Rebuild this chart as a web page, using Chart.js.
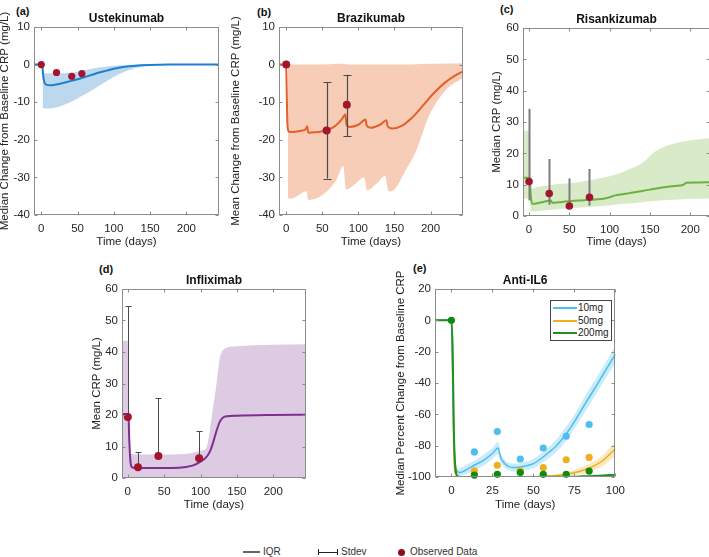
<!DOCTYPE html>
<html>
<head>
<meta charset="utf-8">
<script src="https://cdn.jsdelivr.net/npm/chart.js@4.4.1/dist/chart.umd.min.js"></script>
<style>
html, body { margin: 0; padding: 0; background: #fff; overflow: hidden; width: 709px; height: 557px; }
body { position: relative; font-family: "Liberation Sans", Arial, Helvetica, sans-serif; color: #222; }
canvas { position: absolute; }
.tag { position: absolute; font-weight: bold; font-size: 11px; color: #111; }
#eLegend { position: absolute; left: 550px; top: 300px; width: 60px; height: 39px; border: 1px solid #444; background: #fff; font-size: 10px; }
#eLegend div { position: absolute; left: 2px; height: 12px; line-height: 12px; white-space: nowrap; }
#eLegend span.ln { display: inline-block; width: 24px; height: 2px; vertical-align: middle; margin-right: 1px; }
.key { position: absolute; top: 546px; font-size: 10px; color: #333; line-height: 12px; white-space: nowrap; }
</style>
</head>
<body>

<div class="tag" style="left:16px;top:5px">(a)</div>
<div class="tag" style="left:257px;top:6px">(b)</div>
<div class="tag" style="left:500px;top:3px">(c)</div>
<div class="tag" style="left:99px;top:263px">(d)</div>
<div class="tag" style="left:413px;top:262px">(e)</div>

<canvas id="ca"></canvas>
<canvas id="cb"></canvas>
<canvas id="cc"></canvas>
<canvas id="cd"></canvas>
<canvas id="ce"></canvas>

<div id="eLegend"></div>

<div class="key" style="left:243px"><span style="display:inline-block;width:17px;height:0;border-top:2px solid #666;vertical-align:middle;margin-right:3px"></span>IQR</div>
<div class="key" style="left:318px"><span style="display:inline-block;width:18px;height:6px;border-left:1px solid #222;border-right:1px solid #222;background:linear-gradient(#222,#222) center/100% 1px no-repeat;vertical-align:middle;margin-right:3px"></span>Stdev</div>
<div class="key" style="left:398px"><span style="display:inline-block;width:7px;height:7px;border-radius:50%;background:#8e0c1c;vertical-align:middle;margin-right:5px"></span>Observed Data</div>

<script>
const FONT = '"Liberation Sans", Arial, Helvetica, sans-serif';
Chart.defaults.font.family = FONT;
Chart.defaults.color = '#262626';

const OBS = '#a3152f';

// shared tick labels
const timeTicks = [0, 50, 100, 150, 200];
const changeTicks = [-40, -30, -20, -10, 0, 10];
const crpTicks = [0, 10, 20, 30, 40, 50, 60];
const il6TimeTicks = [0, 25, 50, 75, 100];
const pctTicks = [-100, -80, -60, -40, -20, 0, 20];

// (a) Ustekinumab
const aDays = [-10, 0, 1.5, 3, 5, 8, 12, 20, 30, 40, 50, 60, 70, 80, 90, 100, 115, 130, 150, 175, 245];
const aMedian = [0, 0, -0.5, -3.5, -5.0, -5.4, -5.5, -5.3, -4.9, -4.4, -3.9, -3.3, -2.7, -2.1, -1.6, -1.1, -0.6, -0.3, -0.1, 0, 0];
const aBandDays = [2, 3, 5, 10, 20, 30, 40, 50, 60, 70, 80, 90, 100, 110, 120, 135, 150, 175, 245];
const aBandHi = [-2.3, -2.3, -2.3, -2.3, -2.3, -2.3, -2.2, -1.9, -1.5, -1.1, -0.8, -0.5, -0.3, -0.2, -0.1, 0, 0, 0, 0];
const aBandLo = [-11.5, -11.6, -11.7, -11.7, -11.4, -10.8, -10.0, -9.0, -7.9, -6.8, -5.6, -4.4, -3.3, -2.3, -1.5, -0.7, -0.3, -0.05, 0];
const aObsDays = [0, 21, 42, 56];
const aObs = [0, -2.1, -3.1, -2.4];

// (b) Brazikumab
const bDays = [-10, 0, 0.6, 1.5, 3, 5, 10, 20, 27, 29, 30.5, 40, 50, 60, 70, 78, 82, 83.5, 88, 100, 110, 111.5, 117, 130, 139, 140.5, 147, 160, 175, 190, 205, 220, 235, 245];
const bMean = [0, 0, -6, -15, -17.6, -17.9, -17.9, -17.6, -17.2, -16.4, -18.1, -18.0, -17.7, -17.2, -16.0, -14.3, -13.2, -16.0, -16.6, -16.0, -14.6, -16.2, -16.8, -16.0, -14.8, -16.4, -17.0, -16.3, -14.0, -10.8, -7.5, -4.8, -2.8, -1.8];
const bBandDays = [2.5, 5, 15, 28, 30.5, 45, 60, 70, 79, 83, 95, 108, 112, 125, 137, 142, 150, 165, 180, 197, 220, 245];
const bBandHi = [-0.3, 0, 0, 0, 0, 0, 0.1, 0.2, 0.2, 0.1, 0, 0, 0, 0, 0, 0, 0, 0, 0.1, 0.2, 0.3, 0.3];
const bBandLo = [-35.5, -35.7, -35, -33.7, -36, -35.3, -33, -30.5, -27, -33.2, -31.8, -30, -33.4, -31.7, -29.6, -33.7, -33.2, -28.3, -23, -14, -7, -3.5];
const bObsDays = [0, 56, 84];
const bObs = [0, -17.5, -10.7];
const bSdDays = [56, 84];
const bSdLo = [-30.3, -19.0];
const bSdHi = [-4.7, -2.7];

// (c) Risankizumab
const cDays = [-7.5, 1, 2, 4, 14, 24.5, 26.5, 29, 41, 53, 68, 82, 92, 100, 106, 118, 127, 141, 156, 168, 181, 191, 195, 209, 224.5];
const cMedian = [12.2, 12.2, 7, 3.9, 4.3, 4.9, 5.0, 4.2, 4.5, 4.8, 5.0, 5.3, 5.5, 6.0, 6.5, 7.0, 7.4, 8.0, 8.7, 9.2, 9.6, 9.9, 10.6, 10.7, 10.8];
const cBandDays = [-7.5, 1, 2.3, 9, 27, 65, 91, 106, 123, 140, 156, 173, 197, 224.5];
const cBandHi = [27.2, 27.2, 8.6, 9.2, 9.9, 10.9, 12.2, 13.1, 14.8, 16.8, 20.5, 22.6, 24.0, 24.8];
const cBandLo = [5.6, 5.6, 1.4, 1.5, 2.0, 2.7, 3.2, 3.6, 4.0, 4.4, 4.8, 5.1, 5.4, 5.6];
const cObsDays = [0, 25, 50, 75];
const cObs = [11, 7.2, 3.2, 6.0];
const cIqrLo = [5.0, 3.6, 3.0, 3.3];
const cIqrHi = [34.2, 18.2, 12.0, 15.0];

// (d) Infliximab
const dDays = [-8, 0, 1, 2, 4, 6, 10, 30, 60, 80, 90, 100, 106, 110, 114, 118, 122, 126, 130, 136, 150, 200, 245];
const dMean = [20.3, 20.3, 19.6, 12, 4.5, 3.4, 3.2, 3.2, 3.2, 3.5, 4.0, 5.2, 6.2, 7.2, 9.0, 11.8, 15.0, 17.6, 19.0, 19.6, 19.8, 20.0, 20.1];
const dBandDays = [-8, 0, 1, 2, 20, 60, 80, 90, 98, 104, 108, 111, 113, 117, 122, 126, 130, 135, 150, 200, 245];
const dBandHi = [43.6, 43.6, 20, 7.6, 7.5, 7.5, 7.6, 8.0, 8.5, 8.8, 9.5, 12.5, 15.5, 22, 30, 37.5, 40.3, 41.3, 41.8, 42.3, 42.5];
const dObsDays = [0, 14, 42, 98];
const dObs = [19.4, 3.4, 7.0, 6.3];
const dSdHi = [54.5, 8.2, 25.4, 14.8];

// (e) Anti-IL6
const doseLabels = ['10mg', '50mg', '200mg'];
const doseColors = ['#4dbeee', '#edb120', '#1f8f1f'];
const e10Days = [-10, 0, 0.7, 1.5, 2.5, 4, 5, 8, 14, 20, 25, 28.5, 30, 32.5, 38, 45, 50, 58, 64, 70, 76, 82, 88, 94, 100];
const e10 = [0, 0, -30, -75, -93, -96.8, -97.2, -96, -92.5, -89, -85, -81.5, -87.5, -91.5, -94, -93, -91.5, -85.5, -80, -72.5, -63, -52.5, -42.5, -32, -21.5];
const e10BandDays = [3, 5, 8, 14, 20, 25, 28.5, 30, 32.5, 38, 45, 50, 58, 64, 70, 76, 82, 88, 94, 100];
const e10Hi = [-95, -94.5, -93, -89.5, -85.5, -81.5, -77.5, -84.5, -89, -91.5, -90.5, -88.5, -82, -76, -68, -58.5, -47.5, -37.5, -27, -16];
const e10Lo = [-98.5, -99, -98.5, -95.5, -92.5, -88.5, -85.5, -90.5, -94, -96.5, -95.5, -94.5, -89, -84, -77, -67.5, -57.5, -47.5, -37, -27];
const e50Days = [-10, 0, 0.7, 1.5, 2.5, 4, 6, 20, 40, 55, 62, 68, 74, 80, 86, 92, 100];
const e50 = [0, 0, -35, -85, -98, -99.6, -99.8, -99.8, -99.8, -99.6, -99.2, -98.5, -97.4, -95.8, -93.4, -89.8, -82];
const e50BandDays = [40, 55, 62, 68, 74, 80, 86, 92, 100];
const e50Hi = [-99.6, -99.2, -98.5, -97.4, -95.8, -93.6, -90.6, -86.4, -77.5];
const e50Lo = [-100, -100, -99.8, -99.4, -98.8, -97.8, -96, -93.2, -86.5];
const e200Days = [-10, 0, 0.8, 1.5, 2.5, 4, 6, 20, 50, 70, 80, 90, 100];
const e200 = [0, 0, -20, -70, -95, -99.7, -100, -100, -100, -99.9, -99.6, -99.2, -98.5];
const eObsDays = [14, 28, 42, 56, 70, 84];
const eObs10 = [-84, -71, -88.5, -81.5, -74, -66.5];
const eObs50 = [-96, -92.5, -96, -94, -89, -87.5];
const eObs200 = [-98.8, -98.3, -97.2, -98.3, -98.3, -96.2];
const eBaseDays = [0];
const eBase = [0];

function xy(xs, ys) { return xs.map((x, i) => ({x: x, y: ys[i]})); }

function curve(xs, ys, color, w) {
  return {data: xy(xs, ys), borderColor: color, borderWidth: w, pointRadius: 0, fill: false, cubicInterpolationMode: 'monotone'};
}
function band(xs, ys, color, fill) {
  return {data: xy(xs, ys), borderWidth: 0, borderColor: 'rgba(0,0,0,0)', backgroundColor: color, pointRadius: 0, fill: fill, cubicInterpolationMode: 'monotone'};
}
function dots(xs, ys, color, r) {
  return {data: xy(xs, ys), showLine: false, pointRadius: r, pointBackgroundColor: color, pointBorderWidth: 0, borderColor: color, clip: false};
}

// box, inward ticks, title and error bars
function decor(p) {
  return {
    id: 'decor',
    beforeDatasetDraw(chart, args) {
      if (!p.err || args.index !== 0) return;
      const {ctx, scales: {x, y}} = chart;
      const e = p.err;
      ctx.save();
      ctx.strokeStyle = e.color;
      ctx.lineWidth = e.width;
      e.x.forEach((d, i) => {
        const px = Math.round(x.getPixelForValue(d)) + 0.5;
        const lo = y.getPixelForValue(e.lo[i]);
        const hi = y.getPixelForValue(e.hi[i]);
        ctx.beginPath();
        ctx.moveTo(px, lo); ctx.lineTo(px, hi);
        if (e.cap) {
          ctx.moveTo(px - e.cap, Math.round(hi) + 0.5); ctx.lineTo(px + e.cap, Math.round(hi) + 0.5);
          if (e.capLo) { ctx.moveTo(px - e.cap, Math.round(lo) + 0.5); ctx.lineTo(px + e.cap, Math.round(lo) + 0.5); }
        }
        ctx.stroke();
      });
      ctx.restore();
    },
    afterDatasetsDraw(chart) {
      const {ctx, chartArea: a, scales: {x, y}} = chart;
      const l = Math.round(a.left) + 0.5, r = Math.round(a.right) - 0.5;
      const t = Math.round(a.top) + 0.5, b = Math.round(a.bottom) - 0.5;
      ctx.save();
      ctx.strokeStyle = '#8c8c8c';
      ctx.lineWidth = 1;
      ctx.strokeRect(l, t, r - l, b - t);
      ctx.beginPath();
      x.ticks.forEach(tk => {
        const px = Math.round(x.getPixelForValue(tk.value)) + 0.5;
        ctx.moveTo(px, b); ctx.lineTo(px, b - 3);
        ctx.moveTo(px, t); ctx.lineTo(px, t + 3);
      });
      y.ticks.forEach(tk => {
        const py = Math.round(y.getPixelForValue(tk.value)) + 0.5;
        ctx.moveTo(l, py); ctx.lineTo(l + 3, py);
        ctx.moveTo(r, py); ctx.lineTo(r - 3, py);
      });
      ctx.stroke();
      ctx.fillStyle = '#111';
      ctx.font = 'bold 12px ' + FONT;
      ctx.textAlign = 'center';
      ctx.textBaseline = 'middle';
      ctx.fillText(p.title, (a.left + a.right) / 2, a.top - 8);
      ctx.restore();
    }
  };
}

function panel(id, p) {
  const cv = document.getElementById(id);
  const [bx, by, bw, bh] = p.box;
  const [al, at, ar, ab] = p.area;
  cv.width = bw; cv.height = bh;
  cv.style.left = bx + 'px'; cv.style.top = by + 'px';
  return new Chart(cv, {
    type: 'line',
    data: {datasets: p.datasets},
    options: {
      responsive: false, animation: false, events: [],
      layout: {padding: {left: 0, top: at - by, right: bx + bw - ar, bottom: 0}},
      plugins: {legend: {display: false}, tooltip: {enabled: false}},
      scales: {
        x: {
          type: 'linear', min: p.xMin, max: p.xMax,
          afterBuildTicks: s => { s.ticks = p.xTicks.map(v => ({value: v})); },
          afterFit: s => { s.height = by + bh - ab; },
          grid: {display: false, drawTicks: false}, border: {display: false},
          ticks: {font: {size: 11.5}, padding: 7, maxRotation: 0, autoSkip: false},
          title: {display: true, text: 'Time (days)', font: {size: 11.5}, color: '#222', padding: {top: 0, bottom: 1}}
        },
        y: {
          type: 'linear', min: p.yMin, max: p.yMax,
          afterBuildTicks: s => { s.ticks = p.yTicks.map(v => ({value: v})); },
          afterFit: s => { s.width = al - bx; },
          grid: {display: false, drawTicks: false}, border: {display: false},
          ticks: {font: {size: 11.5}, padding: 4},
          title: {display: true, text: p.yTitle, font: {size: 11.5}, color: '#222', padding: {top: 0, bottom: 0}}
        }
      }
    },
    plugins: [decor(p)]
  });
}

// dataset 0 is drawn on top, the last one at the bottom
panel('ca', {
  box: [-2, 0, 226, 250], area: [34, 27, 219, 215],
  title: 'Ustekinumab', yTitle: 'Median Change from Baseline CRP (mg/L)',
  xMin: -10, xMax: 245, xTicks: timeTicks, yMin: -40, yMax: 10, yTicks: changeTicks,
  datasets: [
    dots(aObsDays, aObs, OBS, 3.6),
    curve(aDays, aMedian, '#1f7fcf', 2),
    band(aBandDays, aBandHi, '#bcd8ef', false),
    band(aBandDays, aBandLo, '#bcd8ef', '-1')
  ]
});

panel('cb', {
  box: [229, 0, 239, 250], area: [279, 27, 463, 215],
  title: 'Brazikumab', yTitle: 'Mean Change from Baseline CRP (mg/L)',
  xMin: -10, xMax: 245, xTicks: timeTicks, yMin: -40, yMax: 10, yTicks: changeTicks,
  err: {x: bSdDays, lo: bSdLo, hi: bSdHi, cap: 4, capLo: true, color: '#4a4a4a', width: 1.2},
  datasets: [
    dots(bObsDays, bObs, OBS, 4),
    curve(bDays, bMean, '#e4602a', 2),
    band(bBandDays, bBandHi, '#f7cdb8', false),
    band(bBandDays, bBandLo, '#f7cdb8', '-1')
  ]
});

panel('cc', {
  box: [490, 0, 226, 250], area: [523, 28, 710, 216],
  title: 'Risankizumab', yTitle: 'Median CRP (mg/L)',
  xMin: -7.5, xMax: 224.5, xTicks: timeTicks, yMin: 0, yMax: 60, yTicks: crpTicks,
  err: {x: cObsDays, lo: cIqrLo, hi: cIqrHi, cap: 0, color: '#7d7d7d', width: 2},
  datasets: [
    dots(cObsDays, cObs, OBS, 3.8),
    curve(cDays, cMedian, '#6ab23d', 2),
    band(cBandDays, cBandHi, '#d9eac8', false),
    band(cBandDays, cBandLo, '#d9eac8', '-1')
  ]
});

panel('cd', {
  box: [90, 262, 221, 251], area: [122, 289, 306, 478],
  title: 'Infliximab', yTitle: 'Mean CRP (mg/L)',
  xMin: -8, xMax: 245, xTicks: timeTicks, yMin: 0, yMax: 60, yTicks: crpTicks,
  err: {x: dObsDays, lo: dObs, hi: dSdHi, cap: 3, capLo: false, color: '#4a4a4a', width: 1},
  datasets: [
    dots(dObsDays, dObs, OBS, 4),
    curve(dDays, dMean, '#7e2f8e', 2),
    band(dBandDays, dBandHi, '#dccbe3', 'start')
  ]
});

panel('ce', {
  box: [394, 262, 238, 251], area: [435, 289, 622, 477],
  title: 'Anti-IL6', yTitle: 'Median Percent Change from Baseline CRP',
  xMin: -10, xMax: 100, xTicks: il6TimeTicks, yMin: -100, yMax: 20, yTicks: pctTicks,
  datasets: [
    dots(eObsDays, eObs200, '#0f8a0f', 3.6),
    dots(eObsDays, eObs10, doseColors[0], 3.6),
    dots(eObsDays, eObs50, doseColors[1], 3.6),
    dots(eBaseDays, eBase, '#0f8a0f', 3.6),
    curve(e200Days, e200, doseColors[2], 2),
    curve(e10Days, e10, doseColors[0], 1.5),
    curve(e50Days, e50, doseColors[1], 1.5),
    band(e10BandDays, e10Hi, 'rgba(77,190,238,0.3)', false),
    band(e10BandDays, e10Lo, 'rgba(77,190,238,0.3)', '-1'),
    band(e50BandDays, e50Hi, 'rgba(237,177,32,0.3)', false),
    band(e50BandDays, e50Lo, 'rgba(237,177,32,0.3)', '-1')
  ]
});

// legend box inside panel (e)
const leg = document.getElementById('eLegend');
doseLabels.forEach((lab, i) => {
  const row = document.createElement('div');
  row.style.top = (1 + i * 12.5) + 'px';
  row.innerHTML = '<span class="ln" style="background:' + doseColors[i] + '"></span>' + lab;
  leg.appendChild(row);
});
</script>
</body>
</html>
